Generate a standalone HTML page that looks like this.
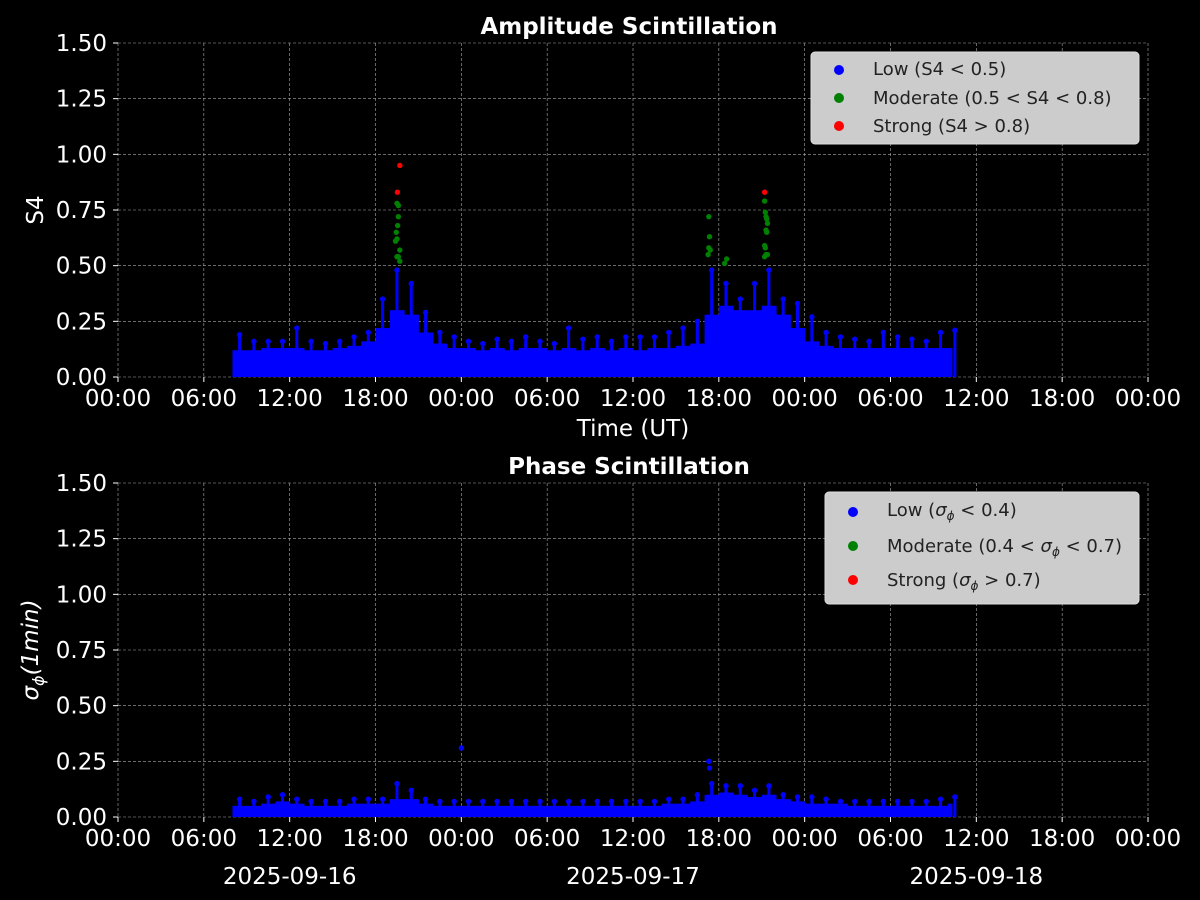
<!DOCTYPE html>
<html><head><meta charset="utf-8"><style>
body{margin:0;background:#000;}
svg{display:block;font-family:"DejaVu Sans","Liberation Sans",sans-serif;}
</style></head><body>
<svg id="chart" width="1200" height="900"></svg>
<script>
const hours = [];for(let h=8;h<=58;h++)hours.push(h);
const s4Core=[0.12,0.12,0.13,0.13,0.13,0.12,0.12,0.13,0.14,0.16,0.22,0.30,0.28,0.20,0.15,0.13,0.13,0.12,0.13,0.12,0.13,0.13,0.12,0.13,0.12,0.13,0.12,0.13,0.12,0.13,0.13,0.14,0.15,0.28,0.32,0.30,0.30,0.32,0.28,0.22,0.16,0.14,0.13,0.13,0.13,0.13,0.13,0.13,0.13,0.13,0.13];
const s4Max=[0.19,0.16,0.16,0.16,0.22,0.16,0.15,0.16,0.18,0.2,0.35,0.48,0.42,0.29,0.2,0.18,0.16,0.15,0.17,0.16,0.18,0.16,0.15,0.22,0.17,0.18,0.16,0.18,0.18,0.18,0.2,0.22,0.25,0.48,0.42,0.35,0.42,0.48,0.35,0.33,0.27,0.2,0.18,0.17,0.16,0.2,0.18,0.17,0.16,0.2,0.21];
const s4ModT=[19.5,19.6,19.6,19.55,19.45,19.5,19.4,19.7,19.6,19.5,19.7,41.3,41.35,41.3,41.4,41.25,42.55,42.4,45.2,45.25,45.3,45.4,45.3,45.35,45.2,45.25,45.3,45.4,45.2,45.35];
const s4ModV=[0.78,0.77,0.72,0.68,0.65,0.62,0.61,0.57,0.54,0.54,0.52,0.72,0.63,0.58,0.57,0.55,0.53,0.51,0.79,0.74,0.72,0.69,0.66,0.65,0.59,0.58,0.55,0.55,0.54,0.71];
const s4StrT=[19.7,19.53,45.2];
const s4StrV=[0.95,0.83,0.83];
const phCore=[0.05,0.05,0.06,0.07,0.06,0.05,0.05,0.05,0.06,0.06,0.06,0.08,0.08,0.06,0.05,0.05,0.05,0.05,0.05,0.05,0.05,0.05,0.05,0.05,0.05,0.05,0.05,0.05,0.05,0.05,0.06,0.06,0.07,0.1,0.11,0.1,0.09,0.1,0.08,0.07,0.06,0.06,0.06,0.05,0.05,0.05,0.05,0.05,0.05,0.05,0.06];
const phMax=[0.08,0.07,0.09,0.1,0.08,0.07,0.07,0.07,0.08,0.08,0.08,0.15,0.12,0.08,0.07,0.07,0.07,0.07,0.07,0.07,0.07,0.07,0.07,0.07,0.07,0.07,0.07,0.07,0.07,0.07,0.08,0.08,0.1,0.15,0.14,0.14,0.12,0.14,0.1,0.09,0.09,0.08,0.07,0.07,0.07,0.07,0.07,0.07,0.07,0.08,0.09];
const phOutT=[24.0,41.3,41.35];
const phOutV=[0.31,0.25,0.22];
const tickLabels=["00:00","06:00","12:00","18:00","00:00","06:00","12:00","18:00","00:00","06:00","12:00","18:00","00:00"];
const yTicks=[0,0.25,0.5,0.75,1.0,1.25,1.5];
const dateLabels=["2025-09-16","2025-09-17","2025-09-18"];

const NS="http://www.w3.org/2000/svg";
const svg=document.getElementById('chart');
function el(t,a,p){const e=document.createElementNS(NS,t);for(const k in a)e.setAttribute(k,a[k]);(p||svg).appendChild(e);return e;}
const X0=118,X1=1148;
const x=h=>X0+(X1-X0)*h/72;
const END=58.3;

function panel(top,bot,title,core,mx,name){
  const y=v=>bot-(bot-top)*v/1.5;
  const g=el('g',{});
  tickLabels.forEach((l,i)=>{const h=i*6;
    const gl=el('line',{x1:x(h),x2:x(h),y1:top,y2:bot,stroke:'#aaa','stroke-width':0.6,'stroke-dasharray':'3,2'},g);
    
    el('line',{x1:x(h),x2:x(h),y1:bot,y2:bot+5,stroke:'#fff'},g);
    const t=el('text',{x:x(h),y:bot+29,fill:'#fff','font-size':23,'text-anchor':'middle'},g);t.textContent=l;
    });
  yTicks.forEach(v=>{
    const gl=el('line',{x1:X0,x2:X1,y1:y(v),y2:y(v),stroke:'#aaa','stroke-width':0.6,'stroke-dasharray':'3,2'},g);
    
    el('line',{x1:X0-5,x2:X0,y1:y(v),y2:y(v),stroke:'#fff'},g);
    const t=el('text',{x:X0-11,y:y(v)+8,fill:'#fff','font-size':23,'text-anchor':'end'},g);t.textContent=v.toFixed(2);
    });
  hours.forEach((h,i)=>{
    if(h>=END)return;
    const w=Math.min(1,END-h);
    const r=el('rect',{x:x(h),y:y(core[i]),width:x(w)-X0+0.5,height:bot-y(core[i]),fill:'#0000ff'},g);
    
    const s=el('rect',{x:x(h+0.5)-1.5,y:y(mx[i]),width:3,height:bot-y(mx[i]),fill:'#0000ff'},g);
    
    el('circle',{cx:x(h+0.5),cy:y(mx[i]),r:2.7,fill:'#0000ff'},g);
  });
  const tt=el('text',{x:629,y:top-9,fill:'#fff','font-size':23,'font-weight':'bold','text-anchor':'middle'},g);tt.textContent=title;
  
  return y;
}
const yA=panel(43,377,'Amplitude Scintillation',s4Core,s4Max,'amplitude-panel');
s4ModT.forEach((t,i)=>{const c=el('circle',{cx:x(t),cy:yA(s4ModV[i]),r:2.7,fill:'#008000'});
  });
s4StrT.forEach((t,i)=>{const c=el('circle',{cx:x(t),cy:yA(s4StrV[i]),r:2.7,fill:'#ff0000'});
  });
const yB=panel(483,817,'Phase Scintillation',phCore,phMax,'phase-panel');
phOutT.forEach((t,i)=>{const c=el('circle',{cx:x(t),cy:yB(phOutV[i]),r:2.7,fill:'#0000ff'});
  });
dateLabels.forEach((d,i)=>{const t=el('text',{x:x(12+24*i),y:884,fill:'#fff','font-size':23,'text-anchor':'middle'});t.textContent=d;
  });
</script>
<svg width="1200" height="900" style="position:absolute;left:0;top:0">
<g font-family="DejaVu Sans, Liberation Sans, sans-serif">
<text x="633" y="436" fill="#fff" font-size="23" text-anchor="middle">Time (UT)</text>
<text transform="translate(43,210) rotate(-90)" fill="#fff" font-size="23" text-anchor="middle">S4</text>
<text transform="translate(38,650) rotate(-90)" fill="#fff" font-size="23" text-anchor="middle"><tspan font-style="italic">σ</tspan><tspan font-size="16" dy="6" font-style="italic">ϕ</tspan><tspan dy="-6" font-style="italic">(1min)</tspan></text>
<g>
<rect x="811" y="52" width="328" height="92" rx="4" fill="#cccccc" stroke="#ddd"/>
<circle cx="839" cy="70" r="5" fill="#0000ff"/><text x="873" y="75" font-size="18" fill="#222">Low (S4 &lt; 0.5)</text>
<circle cx="839" cy="98" r="5" fill="#008000"/><text x="873" y="104" font-size="18" fill="#222">Moderate (0.5 &lt; S4 &lt; 0.8)</text>
<circle cx="839" cy="126" r="5" fill="#ff0000"/><text x="873" y="132" font-size="18" fill="#222">Strong (S4 &gt; 0.8)</text>
</g>
<g>
<rect x="825" y="492" width="314" height="112" rx="4" fill="#cccccc" stroke="#ddd"/>
<circle cx="853" cy="512" r="5" fill="#0000ff"/><text x="887" y="516" font-size="18" fill="#222">Low (<tspan font-style="italic">σ</tspan><tspan font-size="12" dy="4" font-style="italic">ϕ</tspan><tspan dy="-4"> &lt; 0.4)</tspan></text>
<circle cx="853" cy="546" r="5" fill="#008000"/><text x="887" y="552" font-size="18" fill="#222">Moderate (0.4 &lt; <tspan font-style="italic">σ</tspan><tspan font-size="12" dy="4" font-style="italic">ϕ</tspan><tspan dy="-4"> &lt; 0.7)</tspan></text>
<circle cx="853" cy="580" r="5" fill="#ff0000"/><text x="887" y="586" font-size="18" fill="#222">Strong (<tspan font-style="italic">σ</tspan><tspan font-size="12" dy="4" font-style="italic">ϕ</tspan><tspan dy="-4"> &gt; 0.7)</tspan></text>
</g>
</g></svg>
</body></html>
